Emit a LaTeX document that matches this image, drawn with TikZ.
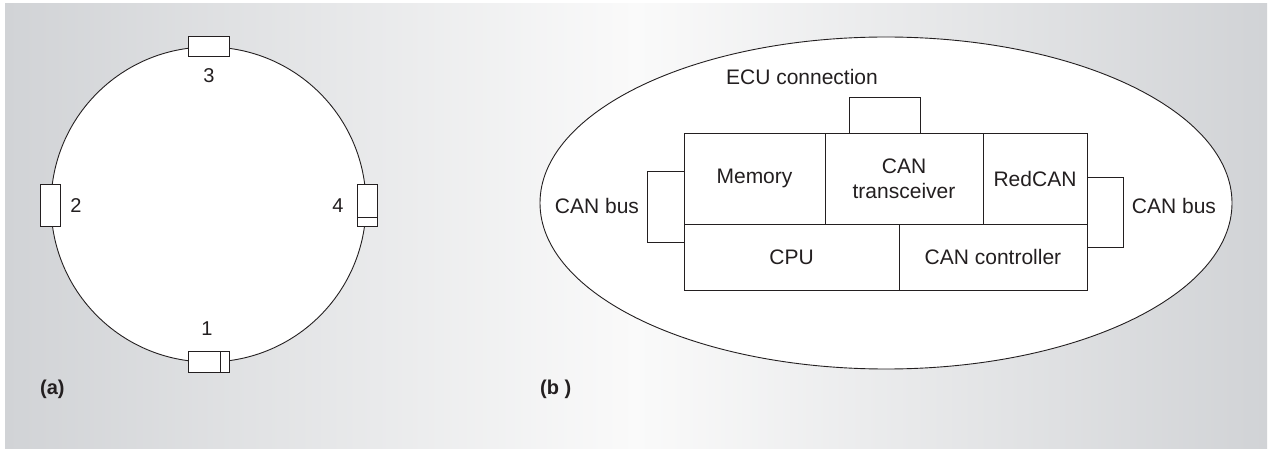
\documentclass[tikz,border=0pt]{standalone}
\usepackage{fontspec}
\setmainfont{Liberation Sans}
\usetikzlibrary{shapes.geometric}
\definecolor{bgdark}{RGB}{209,211,214}
\definecolor{bglight}{RGB}{250,250,250}
\definecolor{ink}{RGB}{35,31,32}
\tikzset{
  lw/.style={line width=0.9pt, draw=ink},
  box/.style={lw, rectangle, fill=white, inner sep=0pt, outer sep=0pt},
  cell/.style={box, align=center, font=\fontsize{21}{25}\selectfont, text=ink},
  lbl/.style={inner sep=0pt, font=\fontsize{21}{25}\selectfont, text=ink, align=center},
  num/.style={inner sep=0pt, font=\fontsize{20}{24}\selectfont, text=ink},
  tag/.style={inner sep=0pt, font=\fontsize{20}{24}\selectfont\bfseries, text=ink, anchor=west}
}
\begin{document}
\begin{tikzpicture}[x=1pt, y=-1pt]
\useasboundingbox (0,0) rectangle (1270,449);
\fill[white] (0,0) rectangle (1270,449);
\shade[left color=bgdark, right color=bgdark, middle color=bglight] (5,4) rectangle (1267,448);

% ---------- (a) ----------
\node[lw, circle, fill=white, minimum size=315pt, inner sep=0pt] (ring) at (208.5,204.5) {};
\node[box, minimum width=41pt, minimum height=20pt] (b3) at (208.5,46) {};
\node[box, minimum width=20pt, minimum height=42pt] (b2) at (50,205) {};
\node[box, minimum width=20pt, minimum height=42pt] (b4) at (367,205) {};
\node[box, minimum width=41pt, minimum height=21pt] (b1) at (208.5,361.5) {};
\coordinate (b4l) at (357,217);
\coordinate (b4r) at (377,217);
\draw[lw] (b4l) -- (b4r);
\coordinate (b1t) at (220,351);
\coordinate (b1b) at (220,372);
\draw[lw] (b1t) -- (b1b);
\node[num] (l3) at (209,76) {3};
\node[num] (l2) at (76,206) {2};
\node[num] (l4) at (338,206) {4};
\node[num] (l1) at (207,329) {1};
\node[tag] (ta) at (40,389) {(a)};

% ---------- (b) ----------
\node[lw, ellipse, fill=white, minimum width=692pt, minimum height=332pt, inner sep=0pt] (ecu) at (886,203) {};
\node[box, minimum width=37pt, minimum height=71pt] (busL) at (665.5,206.5) {};
\node[box, minimum width=36pt, minimum height=70pt] (busR) at (1105,212) {};
\node[box, minimum width=71pt, minimum height=36pt] (conn) at (884.5,115) {};
\node[cell, minimum width=141pt, minimum height=91pt] (mem) at (754.5,178.5) {Memory};
\node[cell, minimum width=158pt, minimum height=91pt] (trx) at (904,178.5) {CAN\\transceiver};
\node[cell, minimum width=104pt, minimum height=91pt] (red) at (1035,178.5) {RedCAN};
\node[cell, minimum width=215pt, minimum height=66pt] (cpu) at (791.5,257) {CPU};
\node[cell, minimum width=188pt, minimum height=66pt] (ctl) at (993,257) {CAN controller};
\node[lbl] (ecuL) at (802,77) {ECU connection};
\node[lbl] (busLL) at (597,206) {CAN bus};
\node[lbl] (busRL) at (1174,206) {CAN bus};
\node[tag] (tb) at (540,389) {(b )};
\end{tikzpicture}
\end{document}
